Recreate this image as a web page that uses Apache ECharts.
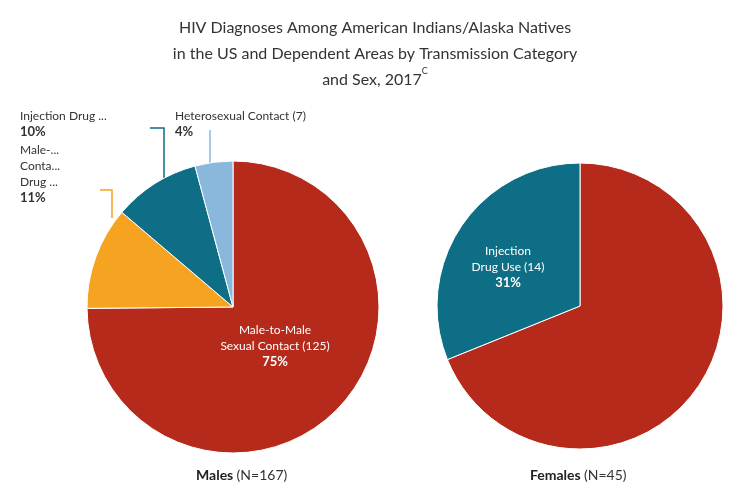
<!DOCTYPE html>
<html>
<head>
<meta charset="utf-8">
<script src="https://cdn.jsdelivr.net/npm/echarts@6/dist/echarts.min.js"></script>
<style>html,body{margin:0;padding:0;background:#fff}#chart{width:750px;height:500px}</style>
</head>
<body>
<div id="chart"></div>
<script>
var maleNames = ['Male-to-Male\nSexual Contact', 'Male-to-Male Sexual\nContact/Injection\nDrug Use', 'Injection Drug Use', 'Heterosexual Contact']
var maleValues = [125, 19, 16, 7]
var malePct = ['75%', '11%', '10%', '4%']
var maleColors = ['#b52a1a', '#f5a321', '#0d6e85', '#8ab8dc']

var femaleNames = ['Heterosexual Contact', 'Injection\nDrug Use']
var femaleValues = [31, 14]
var femalePct = ['69%', '31%']
var femaleColors = ['#b52a1a', '#0d6e85']

var chart = echarts.init(document.getElementById('chart'))
var font = 'Lato, "Open Sans", sans-serif'

// label spots (x, y, align, leader points)
var maleSpots = [
  { x: 275, y: 322, align: 'center' },
  { x: 20, y: 142, align: 'left', labelLinePoints: [[100, 190], [112, 190], [112, 218]] },
  { x: 20, y: 108, align: 'left', labelLinePoints: [[150, 128], [164, 128], [164, 182]] },
  { x: 175, y: 108, align: 'left', labelLinePoints: [[210, 130], [210, 170], [210, 172]] }
]
var femaleSpots = [
  { x: 580, y: 313, align: 'center' },
  { x: 508, y: 243, align: 'center' }
]

function mkData(names, values, pct, colors, inside) {
  return values.map(function (v, i) {
    var isIn = inside.indexOf(i) >= 0
    var name = names[i] + ' (' + v + ')'
    return {
      value: v,
      name: name,
      itemStyle: { color: colors[i] },
      label: {
        formatter: '{a|' + name + '}\n{b|' + pct[i] + '}',
        rich: {
          a: { color: isIn ? '#fff' : '#333', fontSize: 12, lineHeight: 16, fontFamily: font, align: isIn ? 'center' : 'left' },
          b: { color: isIn ? '#fff' : '#333', fontSize: 13, fontWeight: 'bold', lineHeight: 16, fontFamily: font, align: isIn ? 'center' : 'left' }
        }
      },
      labelLine: { show: !isIn, lineStyle: { color: colors[i], width: 1.5 } }
    }
  })
}

function layoutFn(spots) {
  return function (p) {
    var s = spots[p.dataIndex]
    var o = { x: s.x, y: s.y, align: s.align, verticalAlign: 'top' }
    if (s.labelLinePoints) o.labelLinePoints = s.labelLinePoints
    return o
  }
}

var option = {
  title: {
    text: 'HIV Diagnoses Among American Indians/Alaska Natives\nin the US and Dependent Areas by Transmission Category\nand Sex, 2017{s|C}',
    left: 'center',
    top: 10,
    textStyle: {
      color: '#333', fontSize: 16, fontWeight: 'normal', lineHeight: 26, fontFamily: font,
      rich: { s: { fontSize: 9, verticalAlign: 'top', padding: [0, 0, 10, 0], color: '#333', fontFamily: font } }
    }
  },
  series: [{
    type: 'pie',
    center: [233, 307],
    radius: 146,
    startAngle: 90,
    data: mkData(maleNames, maleValues, malePct, maleColors, [0]),
    itemStyle: { borderColor: '#fff', borderWidth: 1 },
    label: { show: true },
    labelLayout: layoutFn(maleSpots),
    emphasis: { disabled: true }
  }, {
    type: 'pie',
    center: [580, 306],
    radius: 143,
    startAngle: 90,
    data: mkData(femaleNames, femaleValues, femalePct, femaleColors, [0, 1]),
    itemStyle: { borderColor: '#fff', borderWidth: 1 },
    label: { show: true },
    labelLayout: layoutFn(femaleSpots),
    emphasis: { disabled: true }
  }],
  graphic: [{
    type: 'text', left: 196, top: 468,
    style: { text: '{b|Males} {a|(N=167)}', rich: { b: { fontWeight: 'bold', fontSize: 14, fill: '#222', fontFamily: font }, a: { fontSize: 14, fill: '#333', fontFamily: font } } }
  }, {
    type: 'text', left: 530, top: 468,
    style: { text: '{b|Females} {a|(N=45)}', rich: { b: { fontWeight: 'bold', fontSize: 14, fill: '#222', fontFamily: font }, a: { fontSize: 14, fill: '#333', fontFamily: font } } }
  }]
}
chart.setOption(option)
</script>
</body>
</html>
